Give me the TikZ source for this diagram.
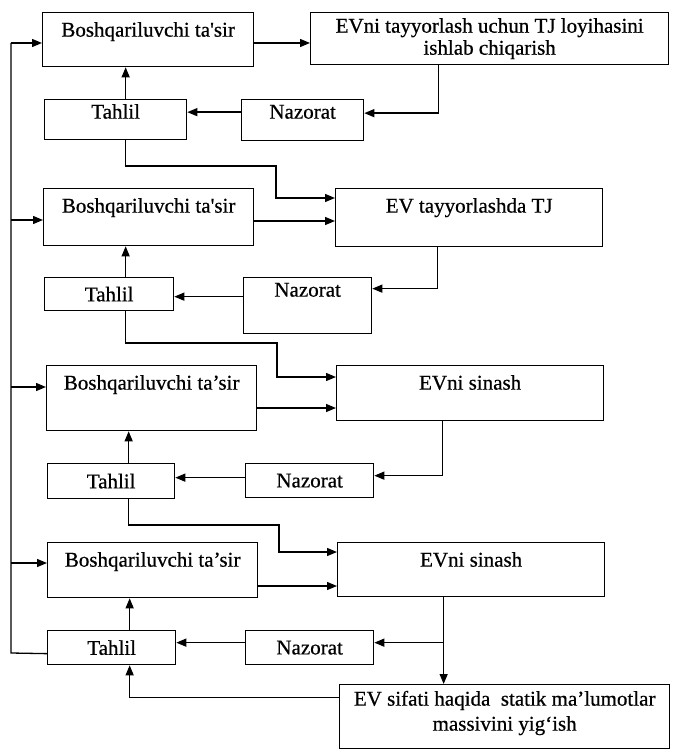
\documentclass[tikz,border=0pt]{standalone}
\usepackage{fontspec}
\setmainfont{Liberation Serif}[FakeBold=0.6]
\usetikzlibrary{arrows.meta,calc}
\tikzset{
	wire/.style={line width=1.3pt},
	flow/.style={wire, -{Triangle[length=10pt,width=8pt]}},
	blk/.style={draw, wire, anchor=north west, align=center, inner xsep=4pt, inner ysep=4pt},
	topblk/.style={blk, text height=15pt, text depth=#1},
	headblk/.style={blk, text height=20pt, text depth=#1}
}

\begin{document}
\begin{tikzpicture}[x=1pt, y=-1pt, font=\fontsize{21}{22}\selectfont]
			%%%%% START %%%%%
			\useasboundingbox (0,0) rectangle (672,751);
			
			% first stage
			\node[headblk=26pt, minimum width=211pt] (B1) at (42,12) {Boshqariluvchi ta\textquotesingle sir};
			\node[blk, minimum width=358pt, minimum height=52pt] (E1) at (310,12) {EVni tayyorlash uchun TJ loyihasini\\ishlab chiqarish};
			\node[topblk=17pt, minimum width=142pt] (T1) at (44,99) {Tahlil};
			\node[topblk=18pt, minimum width=122pt] (N1) at (241,99) {Nazorat};
			
			% second stage
			\node[headblk=29pt, minimum width=210pt] (B2) at (43,188) {Boshqariluvchi ta\textquotesingle sir};
			\node[headblk=30pt, minimum width=267pt] (E2) at (335,188) {EV tayyorlashda TJ};
			\node[blk, minimum width=129pt, minimum height=33pt] (T2) at (44,277) {Tahlil};
			\node[topblk=33pt, minimum width=128pt] (N2) at (243,277) {Nazorat};
			
			% third stage
			\node[headblk=37pt, minimum width=210pt] (B3) at (46,365) {Boshqariluvchi ta’sir};
			\node[headblk=27pt, minimum width=267pt] (E3) at (336,365) {EVni sinash};
			\node[blk, minimum width=127pt, minimum height=35pt] (T3) at (47,463) {Tahlil};
			\node[blk, minimum width=128pt, minimum height=34pt] (N3) at (245,463) {Nazorat};
			
			% fourth stage
			\node[headblk=27pt, minimum width=210pt] (B4) at (47,542) {Boshqariluvchi ta’sir};
			\node[headblk=26pt, minimum width=267pt] (E4) at (337,542) {EVni sinash};
			\node[blk, minimum width=128pt, minimum height=34pt] (T4) at (47,630) {Tahlil};
			\node[blk, minimum width=128pt, minimum height=34pt] (N4) at (245,630) {Nazorat};
			
			\node[blk, minimum width=330pt, text height=42pt, text depth=14pt] (F) at (339,684) {EV sifati haqida\ \ statik ma’lumotlar\\[3pt]massivini yig‘ish};
			
			% points on the lines
			\coordinate (bus) at (11,653);
			\foreach \i/\dy in {1/31, 2/32, 3/22, 4/21}
				\coordinate (in\i) at ([yshift=-\dy pt]B\i.north west);
			\foreach \i/\dy in {1/31, 2/33, 3/43, 4/44}
				\coordinate (out\i) at ([yshift=-\dy pt]B\i.north east);
			\foreach \i/\dx in {1/10, 2/16.5, 3/17.5, 4/18}
				\coordinate (up\i) at ([xshift=\dx pt]T\i.north);
			\coordinate (k1) at (276,166);
			\coordinate (k2) at (277,343);
			\coordinate (k3) at (279,525);
			\coordinate (d1) at ([xshift=-51pt]E1.south);
			\coordinate (d2) at ([xshift=-31.5pt]E2.south);
			\coordinate (d3) at ([xshift=-27.5pt]E3.south);
			\coordinate (d4) at ([xshift=-27.5pt]E4.south);
			
			% feedback line on the left
			\draw[wire] ([yshift=-6pt]T4.west) -- (bus) -- (bus |- in1);
			\foreach \i in {1,...,4}
				\draw[flow] (bus |- in\i) -- (in\i);
			
			% control into each stage
			\foreach \i in {1,...,4}
				\draw[flow] (out\i) -- (out\i -| E\i.west);
			\foreach \i in {1,...,4}
				\draw[flow] (up\i) -- (up\i |- B\i.south);
			
			% stage to control
			\draw[flow] (d1) |- ([yshift=7pt]N1.east);
			\draw[flow] (d2) |- ([yshift=17pt]N2.east);
			\draw[flow] (d3) |- ([yshift=5pt]N3.east);
			\draw[flow] (d4) -- (d4 |- F.north);
			\draw[flow] ([yshift=5pt]N4.east -| d4) -- ([yshift=5pt]N4.east);
			
			% control to analysis
			\draw[flow] ([yshift=8pt]N1.west) -- ([yshift=8pt]N1.west -| T1.east);
			\draw[flow] ([yshift=9pt]N2.west) -- ([yshift=9pt]N2.west -| T2.east);
			\draw[flow] ([yshift=3pt]N3.west) -- ([yshift=3pt]N3.west -| T3.east);
			\draw[flow] ([yshift=5pt]N4.west) -- ([yshift=5pt]N4.west -| T4.east);
			
			% analysis to next stage
			\draw[flow] (up1 |- T1.south) |- (k1) |- ([yshift=-10pt]E2.north west);
			\draw[flow] (up2 |- T2.south) |- (k2) |- ([yshift=-12pt]E3.north west);
			\draw[flow] (up3 |- T3.south) |- (k3) |- ([yshift=-10pt]E4.north west);
			
			\draw[flow] ([yshift=19pt]F.west) -| (up4 |- T4.south);
			%%%%% END %%%%%
\end{tikzpicture}
\end{document}
